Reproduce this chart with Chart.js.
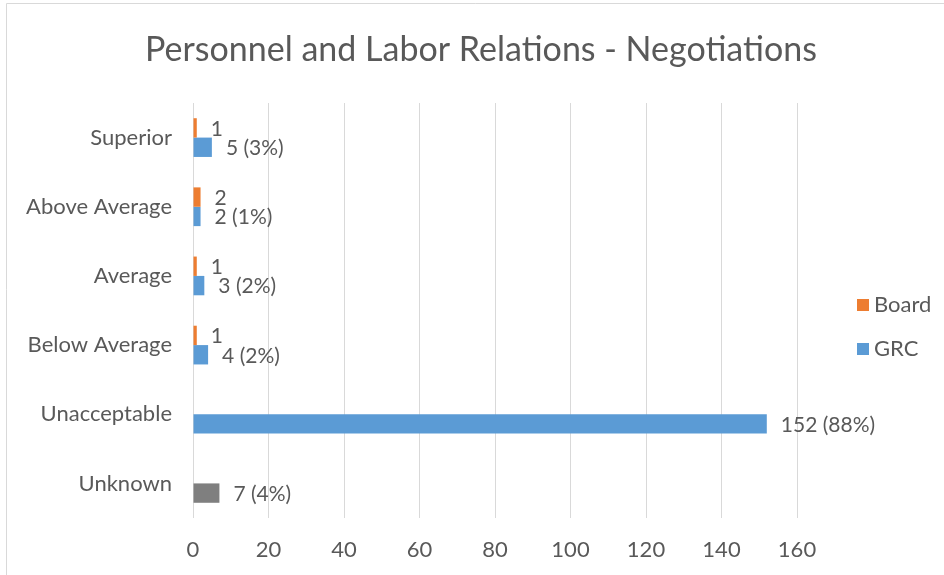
<!DOCTYPE html>
<html>
<head>
<meta charset="utf-8">
<script src="https://cdn.jsdelivr.net/npm/chart.js@4/dist/chart.umd.min.js"></script>
<style>
  html, body { margin: 0; padding: 0; background: #fff; }
</style>
</head>
<body>
<canvas id="chart" width="944" height="575"></canvas>
<script>
const categories = ["Superior", "Above Average", "Average", "Below Average", "Unacceptable", "Unknown"]
const boardValues = [1, 2, 1, 1, null, null]
const grcValues = [5, 2, 3, 4, 152, 7]
const xTicks = [0, 20, 40, 60, 80, 100, 120, 140, 160]

const TEXT = '#595959'
const FONT = 'Lato'
const grcTotal = grcValues.reduce((a, b) => a + b, 0)
const pct = v => Math.round(v / grcTotal * 100)

// title, legend, frame and value labels are drawn by hand
const decorations = {
  id: 'decorations',
  beforeDraw(chart) {
    const ctx = chart.ctx
    ctx.save()
    ctx.strokeStyle = '#d9d9d9'
    ctx.lineWidth = 1
    ctx.beginPath()
    ctx.moveTo(6.5, chart.height)
    ctx.lineTo(6.5, 3.5)
    ctx.lineTo(chart.width, 3.5)
    ctx.stroke()

    ctx.fillStyle = TEXT
    ctx.font = `34px ${FONT}`
    ctx.textAlign = 'center'
    ctx.textBaseline = 'middle'
    ctx.fillText('Personnel and Labor Relations - Negotiations', 481, 50)

    ctx.textAlign = 'left'
    ctx.font = `22px ${FONT}`
    chart.data.datasets.forEach((ds, i) => {
      const y = 305 + i * 44
      ctx.fillStyle = ds.legendColor
      ctx.fillRect(857, y - 6, 12, 12)
      ctx.fillStyle = TEXT
      ctx.fillText(ds.label, 874, y)
    })
    ctx.restore()
  },
  afterDatasetsDraw(chart) {
    const ctx = chart.ctx
    ctx.save()
    ctx.fillStyle = TEXT
    ctx.font = `21px ${FONT}`
    ctx.textBaseline = 'middle'
    chart.data.datasets.forEach((ds, di) => {
      chart.getDatasetMeta(di).data.forEach((bar, i) => {
        const v = ds.data[i]
        if (v == null) return
        const text = di === 0 ? String(v) : `${v} (${pct(v)}%)`
        ctx.fillText(text, bar.x + 14, bar.y + 1)
      })
    })
    ctx.restore()
  }
}

new Chart(document.getElementById('chart'), {
  type: 'bar',
  data: {
    labels: categories,
    datasets: [
      {
        label: 'Board',
        data: boardValues,
        backgroundColor: '#ED7D31',
        legendColor: '#ED7D31'
      },
      {
        label: 'GRC',
        data: grcValues,
        backgroundColor: categories.map(c => c === 'Unknown' ? '#7F7F7F' : '#5B9BD5'),
        legendColor: '#5B9BD5'
      }
    ]
  },
  options: {
    indexAxis: 'y',
    responsive: false,
    animation: false,
    devicePixelRatio: 1,
    barPercentage: 1,
    categoryPercentage: 0.56,
    layout: { padding: { left: 0, right: 147, top: 103, bottom: 0 } },
    plugins: {
      legend: { display: false },
      title: { display: false },
      tooltip: { enabled: false }
    },
    scales: {
      x: {
        min: 0,
        max: 160,
        afterBuildTicks: s => { s.ticks = xTicks.map(v => ({ value: v })) },
        afterFit: s => { s.height = 57 },
        grid: { color: '#d9d9d9', drawTicks: false },
        border: { display: false },
        ticks: { padding: 19, color: TEXT, font: { family: FONT, size: 22 } }
      },
      y: {
        afterFit: s => { s.width = 193 },
        grid: { display: false },
        border: { display: false },
        ticks: { padding: 13, color: TEXT, font: { family: FONT, size: 22 } }
      }
    }
  },
  plugins: [decorations]
})
</script>
</body>
</html>
